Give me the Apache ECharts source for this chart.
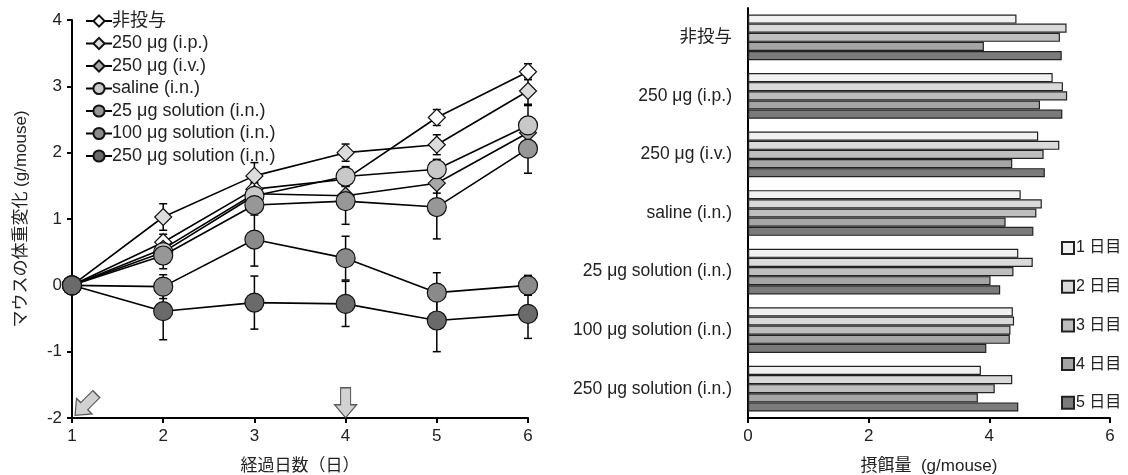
<!DOCTYPE html>
<html>
<head>
<meta charset="utf-8">
<script src="https://cdn.jsdelivr.net/npm/echarts@6/dist/echarts.min.js"></script>
<style>
	html, body {margin: 0; padding: 0; background: #fff;}
	#main {width: 1128px; height: 475px;}
</style>
</head>
<body>
<div id="main"></div>
<script>
	// 体重変化 (左図)
	var days = [1, 2, 3, 4, 5, 6];
	var groupNames = ['非投与', '250 μg (i.p.)', '250 μg (i.v.)', 'saline (i.n.)', '25 μg solution (i.n.)', '100 μg solution (i.n.)', '250 μg solution (i.n.)'];
	var wNone = [0, 0.65, 1.45, 1.6, 2.53, 3.22];
	var wIp = [0, 1.03, 1.65, 2.0, 2.12, 2.93];
	var wIv = [0, 0.55, 1.38, 1.35, 1.54, 2.3];
	var wSaline = [0, 0.5, 1.35, 1.64, 1.75, 2.41];
	var w25 = [0, 0.45, 1.21, 1.27, 1.18, 2.06];
	var w100 = [0, -0.02, 0.69, 0.41, -0.11, 0.0];
	var w250 = [0, -0.39, -0.26, -0.28, -0.53, -0.43];
	var eNone = [0, 0.12, 0.1, 0.1, 0.12, 0.12];
	var eIp = [0, 0.2, 0.2, 0.13, 0.15, 0.2];
	var eIv = [0, 0.15, 0.15, 0.15, 0.15, 0.2];
	var eSaline = [0, 0.15, 0.15, 0.15, 0.15, 0.3];
	var e25 = [0, 0.2, 0.15, 0.35, 0.48, 0.37];
	var e100 = [0, 0.18, 0.4, 0.33, 0.3, 0.15];
	var e250 = [0, 0.43, 0.4, 0.34, 0.47, 0.37];
	var markerSymbols = ['diamond', 'diamond', 'diamond', 'circle', 'circle', 'circle', 'circle'];
	var markerColors = ['#ffffff', '#dcdcdc', '#a8a8a8', '#c8c8c8', '#979797', '#8a8a8a', '#6a6a6a'];
	// 投与タイミングの矢印 [x, y, 回転]
	var arrows = [[1.15, -1.8, -45], [4, -1.77, 0]];

	// 摂餌量 (右図)
	var dayNames = ['1 日目', '2 日目', '3 日目', '4 日目', '5 日目'];
	var feed1 = [4.45, 5.05, 4.81, 4.52, 4.48, 4.39, 3.86];
	var feed2 = [5.28, 5.22, 5.16, 4.87, 4.72, 4.41, 4.38];
	var feed3 = [5.17, 5.29, 4.90, 4.78, 4.40, 4.35, 4.09];
	var feed4 = [3.91, 4.84, 4.38, 4.27, 4.02, 4.34, 3.81];
	var feed5 = [5.20, 5.21, 4.92, 4.73, 4.18, 3.95, 4.48];
	var barColors = ['#f1f1f1', '#dadada', '#bebebe', '#a5a5a5', '#7b7b7b'];

	var weights = [wNone, wIp, wIv, wSaline, w25, w100, w250];
	var errors = [eNone, eIp, eIv, eSaline, e25, e100, e250];
	var feeds = [feed1, feed2, feed3, feed4, feed5];

	var jp = '"Liberation Sans", "Noto Sans CJK JP", sans-serif';
	var series = [];

	// エラーバー
	var errData = [];
	weights.forEach(function(w, i) {
		w.forEach(function(v, j) {
			if (errors[i][j] > 0) errData.push([days[j], v - errors[i][j], v + errors[i][j]]);
		});
	});
	series.push({
		type: 'custom', xAxisIndex: 0, yAxisIndex: 0, z: 1, silent: true,
		data: errData,
		renderItem: function(params, api) {
			var lo = api.coord([api.value(0), api.value(1)]);
			var hi = api.coord([api.value(0), api.value(2)]);
			var st = {stroke: '#000', lineWidth: 1.5};
			return {type: 'group', children: [
				{type: 'line', shape: {x1: lo[0], y1: lo[1], x2: hi[0], y2: hi[1]}, style: st},
				{type: 'line', shape: {x1: lo[0] - 4, y1: lo[1], x2: lo[0] + 4, y2: lo[1]}, style: st},
				{type: 'line', shape: {x1: hi[0] - 4, y1: hi[1], x2: hi[0] + 4, y2: hi[1]}, style: st}
			]};
		}
	});

	weights.forEach(function(w, i) {
		var circle = markerSymbols[i] === 'circle';
		series.push({
			name: groupNames[i], type: 'line', xAxisIndex: 0, yAxisIndex: 0, z: 2 + i,
			data: w.map(function(v, j) { return [days[j], v]; }),
			symbol: markerSymbols[i], symbolSize: circle ? 19 : 17,
			showAllSymbol: true,
			lineStyle: {color: '#000', width: 1.6},
			itemStyle: {color: markerColors[i], borderColor: '#111', borderWidth: 1.2},
			emphasis: {disabled: true}
		});
	});

	series.push({
		type: 'scatter', xAxisIndex: 0, yAxisIndex: 0, z: 1, silent: true,
		data: arrows.map(function(a) { return {value: [a[0], a[1]], symbolRotate: a[2]}; }),
		symbol: 'path://M-5,-15 L5,-15 L5,2 L11,2 L0,15 L-11,2 L-5,2 Z',
		symbolSize: [22, 30],
		itemStyle: {color: '#c6c6c6', borderColor: '#333', borderWidth: 1.2}
	});

	feeds.forEach(function(f, i) {
		series.push({
			name: dayNames[i], type: 'bar', xAxisIndex: 1, yAxisIndex: 1,
			data: f, barGap: '0%', barCategoryGap: '22%',
			itemStyle: {color: barColors[i], borderColor: '#222', borderWidth: 1.2},
			emphasis: {disabled: true}
		});
	});

	var myChart = echarts.init(document.getElementById('main'));
	var option = {
		animation: false,
		backgroundColor: '#fff',
		textStyle: {fontFamily: jp},
		legend: [
			{
				data: groupNames, orient: 'vertical', left: 80, top: 7, itemGap: 4.5,
				itemWidth: 26, itemHeight: 14,
				textStyle: {fontSize: 18, color: '#222', fontFamily: jp, padding: [0, 0, 0, -5]}
			},
			{
				data: dayNames, orient: 'vertical', left: 1056, top: 235, itemGap: 22.7,
				itemWidth: 12, itemHeight: 12, icon: 'rect',
				textStyle: {fontSize: 16, color: '#222', fontFamily: jp, padding: [0, 0, 0, -3]}
			}
		],
		grid: [
			{left: 72, top: 20, width: 456, height: 398, outerBoundsMode: 'none'},
			{left: 748, top: 8, width: 362, height: 410, outerBoundsMode: 'none'}
		],
		xAxis: [
			{
				gridIndex: 0, type: 'value', min: 1, max: 6, interval: 1,
				name: '経過日数（日）', nameLocation: 'middle', nameGap: 40,
				nameTextStyle: {fontSize: 17, color: '#222', fontFamily: jp},
				axisLine: {onZero: false, lineStyle: {color: '#000', width: 2}},
				axisTick: {show: true, length: 5, lineStyle: {color: '#000', width: 2}},
				axisLabel: {fontSize: 17, color: '#222', margin: 10},
				splitLine: {show: false}
			},
			{
				gridIndex: 1, type: 'value', min: 0, max: 6, interval: 2,
				name: '摂餌量  (g/mouse)', nameLocation: 'middle', nameGap: 40,
				nameTextStyle: {fontSize: 17, color: '#222', fontFamily: jp},
				axisLine: {show: true, onZero: false, lineStyle: {color: '#000', width: 2}},
				axisTick: {show: true, length: 5, lineStyle: {color: '#000', width: 2}},
				axisLabel: {fontSize: 17, color: '#222', margin: 10},
				splitLine: {show: false}
			}
		],
		yAxis: [
			{
				gridIndex: 0, type: 'value', min: -2, max: 4, interval: 1,
				name: 'マウスの体重変化 (g/mouse)', nameLocation: 'middle', nameGap: 42,
				nameTextStyle: {fontSize: 17, color: '#222', fontFamily: jp},
				axisLine: {show: true, onZero: false, lineStyle: {color: '#000', width: 2}},
				axisTick: {show: true, length: 5, lineStyle: {color: '#000', width: 2}},
				axisLabel: {fontSize: 17, color: '#222', margin: 10},
				splitLine: {show: false}
			},
			{
				gridIndex: 1, type: 'category', data: groupNames, inverse: true,
				axisLine: {show: true, lineStyle: {color: '#000', width: 2}},
				axisTick: {show: false},
				axisLabel: {fontSize: 17.5, color: '#222', margin: 16}
			}
		],
		series: series
	};
	myChart.setOption(option);
</script>
</body>
</html>
